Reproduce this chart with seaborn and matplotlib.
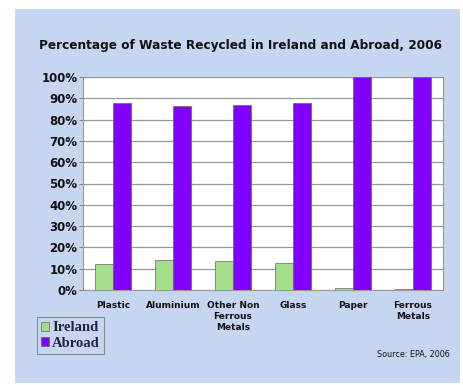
import matplotlib
matplotlib.use("Agg")
import matplotlib.pyplot as plt
import seaborn as sns
import pandas as pd
from matplotlib.patches import Rectangle, Patch

categories = ["Plastic", "Aluminium", "Other Non\nFerrous\nMetals", "Glass", "Paper", "Ferrous\nMetals"]
ireland = [12.2, 14.1, 13.8, 12.8, 0.8, 0.5]
abroad = [87.9, 86.4, 86.7, 87.6, 99.8, 100.0]
series = ["Ireland", "Abroad"]
yticks = list(range(0, 101, 10))

df = pd.DataFrame({
    "cat": categories * 2,
    "series": [series[0]] * len(categories) + [series[1]] * len(categories),
    "value": ireland + abroad,
})

sns.set_theme(style="white")
plt.rcParams['font.family'] = ['DejaVu Sans']

GREEN = "#a3df8b"
PURPLE = "#7f00ff"
BG = "#c6d6f1"
fig = plt.figure(figsize=(4.64, 3.85), dpi=100, facecolor="white")
fig.patches.append(Rectangle((15/464, 2/385), 445/464, 374/385, transform=fig.transFigure,
                             facecolor=BG, edgecolor="none", zorder=-10))

ax = fig.add_axes([83/464, 1 - 290/385, 360/464, 213/385])
ax.set_facecolor("white")
sns.barplot(data=df, x="cat", y="value", hue="series", palette=[GREEN, PURPLE],
            saturation=1, width=0.59, edgecolor="#666666", linewidth=0.5, ax=ax,
            legend=False, zorder=3)
ax.set_ylim(0, 100)
ax.set_xlim(-0.5, len(categories) - 0.5)
ax.set_yticks(yticks)
ax.set_yticklabels([f"{t}%" for t in yticks], fontsize=8.5, fontweight="bold", color="#111111")
ax.yaxis.grid(True, color="#999999", linewidth=0.9, zorder=0)
ax.set_axisbelow(True)
ax.tick_params(axis="x", length=0, pad=8)
ax.tick_params(axis="y", length=3, width=0.8, color="#888888", pad=1, left=True)
for lab in ax.get_xticklabels():
    lab.set_fontsize(6.5)
    lab.set_fontweight("bold")
    lab.set_color("#111111")
    lab.set_linespacing(1.25)
ax.set_xlabel("")
ax.set_ylabel("")
for s in ax.spines.values():
    s.set_color("#999999")
    s.set_linewidth(0.8)

fig.text(241/464, 1 - 46/385, "Percentage of Waste Recycled in Ireland and Abroad, 2006",
         ha="center", va="center", fontsize=8.7, fontweight="bold", color="#111111")
fig.text(450/464, 1 - 354/385, "Source: EPA, 2006", ha="right", va="center",
         fontsize=5.8, color="#111111")

handles = [Patch(facecolor=GREEN, edgecolor="#666666", linewidth=0.5),
           Patch(facecolor=PURPLE, edgecolor="#666666", linewidth=0.5)]
leg = fig.legend(handles, series, loc="upper left", bbox_to_anchor=(37/464, 1 - 317/385),
                 frameon=True, fancybox=False, handlelength=0.55, handleheight=0.55,
                 handletextpad=0.2, borderpad=0.3, labelspacing=0.15, borderaxespad=0,
                 prop={"family": "Liberation Serif", "weight": "bold", "size": 10.5})
leg.get_frame().set_edgecolor("#777777")
leg.get_frame().set_facecolor(BG)
leg.get_frame().set_linewidth(0.8)
for t in leg.get_texts():
    t.set_color("#222244")

fig.savefig("out.png", dpi=100, facecolor="white")
